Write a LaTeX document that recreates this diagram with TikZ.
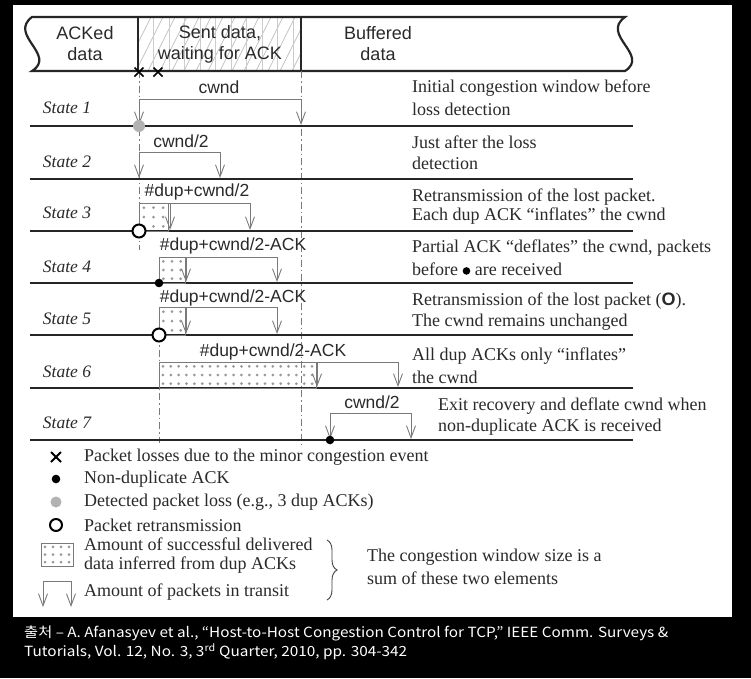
\documentclass[tikz,border=0pt]{standalone}
\usepackage{fontspec}
\usepackage{graphicx}
\setmainfont{Liberation Serif}
\newfontfamily\sansf{Liberation Sans}
\newfontfamily\krf{Noto Sans CJK KR}
\usetikzlibrary{arrows.meta,decorations.pathreplacing}
\definecolor{txt}{HTML}{2A2A2A}
\definecolor{gl}{HTML}{7A7A7A}
\tikzset{
  stline/.style={line width=2.3pt, black!85},
  hdr/.style={line width=2.2pt, black!85},
  gline/.style={draw=gl, line width=0.9pt},
  garr/.style={gline, -{Straight Barb[length=12pt,width=9pt,line width=0.9pt]}},
  ddash/.style={draw=gl, line width=0.8pt, dash pattern=on 7pt off 3pt on 1.5pt off 3pt},
  hlab/.style={font=\sansf\fontsize{18}{21}\selectfont, text=txt, align=center, inner sep=0pt},
  wlab/.style={font=\sansf\fontsize{17.5}{20}\selectfont, text=txt, inner sep=0pt},
  slab/.style={font=\itshape\fontsize{17.5}{20}\selectfont, text=txt, inner sep=0pt},
  dlab/.style={font=\fontsize{18}{21}\selectfont, text=txt, anchor=west, inner sep=0pt},
  openc/.style={draw=black, line width=2pt, fill=white},
}
\newcommand{\mydotbox}[6]{%
  \draw[gline, line width=0.7pt] (#1,#2) rectangle (#3,#4);
  \foreach \i in {1,...,#5}{\foreach \j in {1,...,#6}{%
    \fill[gray!80] ({#1+(#3-#1)*(\i-0.5)/#5},{#2+(#4-#2)*(\j-0.5)/#6}) circle[radius=1.5pt];}}}
\begin{document}
\begin{tikzpicture}[x=1pt,y=-1pt]
\useasboundingbox (0,0) rectangle (751,678);
\fill[black] (0,0) rectangle (751,678);
\fill[white] (13,5) rectangle (732,617);

% ---------- header ----------
\begin{scope}
  \clip (138,17) rectangle (301,71);
  \foreach \k in {0,...,17} \draw[gray!60, line width=0.55pt] ({112+\k*12},71) -- ++(27,-54);
  \foreach \k in {1,...,10} \draw[gray!40, line width=0.45pt] ({138+\k*15.5},17) -- ++(0,54);
\end{scope}
\draw[hdr] (32,17) -- (625,17)
  .. controls (600,35) and (650,55) .. (625,71) -- (32,71)
  .. controls (57,55) and (8,35) .. (32,17) -- cycle;
\draw[hdr] (138,17) -- (138,71);
\draw[hdr] (301,17) -- (301,71);
\node[hlab] (h1) at (85,44) {ACKed\\data};
\node[hlab] (h2) at (220,44) {Sent data,\\waiting for ACK};
\node[hlab] (h3) at (378,44) {Buffered\\data};

% dash-dot guides
\draw[ddash] (139,71) -- (139,250);
\draw[ddash] (301,71) -- (301,448);
\draw[ddash] (159,335) -- (159,443);

% loss crosses
\foreach \cx in {139,158} {
  \draw[line width=1.7pt, black] (\cx-4.5,67.5) -- (\cx+4.5,76.5);
  \draw[line width=1.7pt, black] (\cx-4.5,76.5) -- (\cx+4.5,67.5);
}

% ---------- state lines ----------
\foreach \yy in {126,179,231,283,335,388,440} {
  \draw[stline] (30,\yy) -- (633,\yy);
}
\node[slab] (s1) at (67,108) {State 1};
\node[slab] (s2) at (67,162) {State 2};
\node[slab] (s3) at (67,213) {State 3};
\node[slab] (s4) at (67,267) {State 4};
\node[slab] (s5) at (67,319) {State 5};
\node[slab] (s6) at (67,372) {State 6};
\node[slab] (s7) at (67,423) {State 7};

% ---------- dotted boxes ----------
\mydotbox{139}{203}{168}{231}{3}{3}
\mydotbox{159}{257}{185}{283}{3}{3}
\mydotbox{159}{307}{185}{335}{3}{3}
\mydotbox{159}{362}{316}{388}{20}{3}

% ---------- brackets ----------
% State 1
\draw[gline] (139,99) -- (301,99);
\draw[garr] (139,99) -- (139,125);
\draw[garr] (301,99) -- (301,125);
\node[wlab] (w1) at (219,87) {cwnd};
% State 2
\draw[gline] (139,152) -- (220,152);
\draw[garr] (139,152) -- (139,178);
\draw[garr] (220,152) -- (220,178);
\node[wlab] (w2) at (181,141) {cwnd/2};
% State 3
\draw[gline] (139,203) -- (250,203);
\draw[garr] (170,203) -- (170,230);
\draw[garr] (250,203) -- (250,230);
\node[wlab] (w3) at (197,192) {\#dup+cwnd/2};
% State 4
\draw[gline] (159,257) -- (277,257);
\draw[garr] (186,257) -- (186,282);
\draw[garr] (277,257) -- (277,282);
\node[wlab] (w4) at (233,246) {\#dup+cwnd/2-ACK};
% State 5
\draw[gline] (159,307) -- (277,307);
\draw[garr] (186,307) -- (186,334);
\draw[garr] (277,307) -- (277,334);
\node[wlab] (w5) at (233,298) {\#dup+cwnd/2-ACK};
% State 6
\draw[gline] (159,362) -- (398,362);
\draw[garr] (317,362) -- (317,387);
\draw[garr] (398,362) -- (398,387);
\node[wlab] (w6) at (273,352) {\#dup+cwnd/2-ACK};
% State 7
\draw[gline] (330,413) -- (411,413);
\draw[garr] (330,413) -- (330,439);
\draw[garr] (411,413) -- (411,439);
\node[wlab] (w7) at (372,402) {cwnd/2};

% ---------- markers ----------
\fill[gray!60] (139,126) circle[radius=6pt];
\draw[openc] (139,231) circle[radius=6.5pt];
\fill[black] (159,283) circle[radius=4.3pt];
\draw[openc] (159,335) circle[radius=6.5pt];
\fill[black] (330,440) circle[radius=4.3pt];

% ---------- descriptions ----------
\node[dlab] (d1a) at (412,88) {Initial congestion window before};
\node[dlab] (d1b) at (412,109) {loss detection};
\node[dlab] (d2a) at (412,142) {Just after the loss};
\node[dlab] (d2b) at (412,163) {detection};
\node[dlab] (d3a) at (412,197) {Retransmission of the lost packet.};
\node[dlab] (d3b) at (412,216) {Each dup ACK “inflates” the cwnd};
\node[dlab] (d4a) at (412,248) {Partial ACK “deflates” the cwnd, packets};
\node[dlab] (d4b) at (412,269) {before \raisebox{0.5pt}{\tikz[x=1pt,y=1pt]\fill[black] (0,0) circle[radius=3.8pt];} are received};
\node[dlab] (d5a) at (412,301) {Retransmission of the lost packet ({\sansf\bfseries O}).};
\node[dlab] (d5b) at (412,322) {The cwnd remains unchanged};
\node[dlab] (d6a) at (412,356) {All dup ACKs only “inflates”};
\node[dlab] (d6b) at (412,377) {the cwnd};
\node[dlab] (d7a) at (438,406) {Exit recovery and deflate cwnd when};
\node[dlab] (d7b) at (438,427) {non-duplicate ACK is received};

% ---------- legend ----------
\draw[line width=1.9pt, black] (51,452) -- (61,462);
\draw[line width=1.9pt, black] (51,462) -- (61,452);
\fill[black] (56,479) circle[radius=4.3pt];
\fill[gray!60] (56,502) circle[radius=5.5pt];
\draw[openc, line width=2pt] (56,525) circle[radius=6pt];
\node[dlab] (l1) at (84,457) {Packet losses due to the minor congestion event};
\node[dlab] (l2) at (84,479) {Non-duplicate ACK};
\node[dlab] (l3) at (84,502) {Detected packet loss (e.g., 3 dup ACKs)};
\node[dlab] (l4) at (84,525) {Packet retransmission};
\mydotbox{41}{543}{73}{566}{4}{3}
\node[dlab] (l5a) at (84,544) {Amount of successful delivered};
\node[dlab] (l5b) at (84,565) {data inferred from dup ACKs};
\draw[gline] (43,581) -- (71,581);
\draw[garr] (43,581) -- (43,607);
\draw[garr] (71,581) -- (71,607);
\node[dlab] (l6) at (84,592) {Amount of packets in transit};
\draw[draw=black!75, line width=0.9pt, decorate, decoration={brace, amplitude=10pt}] (327,540) -- (327,600);
\node[dlab] (l7a) at (367,557) {The congestion window size is a};
\node[dlab] (l7b) at (367,578) {sum of these two elements};

% ---------- caption ----------
\node[anchor=west, inner sep=0pt, text=white, font=\krf\fontsize{14}{16}\selectfont] (c1) at (24,633)
  {\resizebox{644pt}{\height}{출처 – A. Afanasyev et al., “Host-to-Host Congestion Control for TCP,” IEEE Comm. Surveys \&}};
\node[anchor=west, inner sep=0pt, text=white, font=\krf\fontsize{14}{16}\selectfont] (c2) at (24,652)
  {\resizebox{383pt}{\height}{Tutorials, Vol. 12, No. 3, 3\textsuperscript{rd} Quarter, 2010, pp. 304-342}};
\end{tikzpicture}
\end{document}
